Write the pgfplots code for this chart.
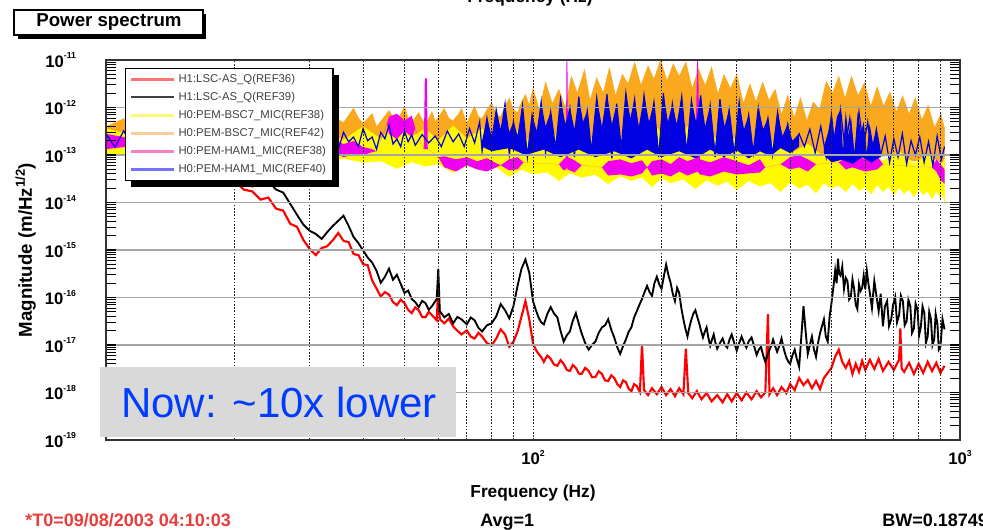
\documentclass[border=0pt]{standalone}
\usepackage{fontspec}
\setmainfont{Liberation Sans}
\usepackage{pgfplots}
\pgfplotsset{compat=1.18}
\usetikzlibrary{shadows}
\makeatletter
\tikzset{no preactions/.code={\let\tikz@preactions\pgfutil@empty}}
\makeatother
\definecolor{mred}{RGB}{255,0,0}
\definecolor{myellow}{RGB}{255,250,0}
\definecolor{morange}{RGB}{250,168,30}
\definecolor{mmag}{RGB}{240,0,240}
\definecolor{mblue}{RGB}{0,0,225}
\definecolor{boxgray}{RGB}{217,217,217}
\definecolor{nowblue}{RGB}{0,60,255}
\definecolor{tred}{RGB}{235,60,60}
\newcommand{\tl}[1]{\textbf{10}\raisebox{0.95ex}{\fontsize{6.5}{7}\selectfont\textbf{#1}}}
\begin{document}
\begin{tikzpicture}
\useasboundingbox (0,0) rectangle (737.25pt,-397.5pt);
\begin{axis}[
  at={(79.5pt,-330pt)}, anchor=south west,
  scale only axis, width=640.5pt, height=285pt,
  xmode=log, ymode=log,
  xmin=10, xmax=1000, ymin=1e-19, ymax=1e-11,
  xtick={10,100,1000},
  xticklabels={,\tl{2},\tl{3}},
  minor xtick={20,30,40,50,60,70,80,90,200,300,400,500,600,700,800,900},
  ytick={1e-19,1e-18,1e-17,1e-16,1e-15,1e-14,1e-13,1e-12,1e-11},
  yticklabels={\tl{-19},\tl{-18},\tl{-17},\tl{-16},\tl{-15},\tl{-14},\tl{-13},\tl{-12},\tl{-11}},
  minor ytick={2e-19,3e-19,4e-19,5e-19,6e-19,7e-19,8e-19,9e-19,
   2e-18,3e-18,4e-18,5e-18,6e-18,7e-18,8e-18,9e-18,
   2e-17,3e-17,4e-17,5e-17,6e-17,7e-17,8e-17,9e-17,
   2e-16,3e-16,4e-16,5e-16,6e-16,7e-16,8e-16,9e-16,
   2e-15,3e-15,4e-15,5e-15,6e-15,7e-15,8e-15,9e-15,
   2e-14,3e-14,4e-14,5e-14,6e-14,7e-14,8e-14,9e-14,
   2e-13,3e-13,4e-13,5e-13,6e-13,7e-13,8e-13,9e-13,
   2e-12,3e-12,4e-12,5e-12,6e-12,7e-12,8e-12,9e-12},
  xmajorgrids, xminorgrids, ymajorgrids,
  x grid style={black!85, dash pattern=on 1.2pt off 1.2pt, line width=0.6pt},
  y grid style={black!35, line width=1.2pt},
  axis on top,
  tick align=inside,
  xtick style={draw=none},
  ytick style={black, line width=0.8pt},
  major tick length=7.5pt, minor tick length=7.5pt,
  axis line style={black!80, line width=0.9pt},
  ticklabel style={font=\fontsize{12.5}{14}\selectfont},
  yticklabel style={xshift=-19pt},
  xticklabel style={yshift=-4pt},
  xlabel={\textbf{Frequency (Hz)}},
  xlabel style={font=\fontsize{13}{15}\selectfont, yshift=-8pt},
  ylabel={\textbf{Magnitude (m/Hz\textsuperscript{1/2})}},
  ylabel style={font=\fontsize{14}{16}\selectfont},
  legend style={at={(0.0222,0.979)}, anchor=north west, draw=black, fill=white,
    line width=0.8pt,
    font=\fontsize{8.5}{9}\selectfont, row sep=1.3pt,
    nodes={inner sep=2.3pt, text=black!75},
    drop shadow={shadow xshift=4.5pt, shadow yshift=-4.5pt, fill=black, opacity=1},
    cells={anchor=west}},
  legend image code/.code={\draw[no preactions, #1] (0pt,0pt) -- (32pt,0pt);},
]
\addlegendimage{red!55, line width=2pt}\addlegendentry{H1:LSC-AS\_Q(REF36)}
\addlegendimage{black!75, line width=1.5pt}\addlegendentry{H1:LSC-AS\_Q(REF39)}
\addlegendimage{yellow!55, line width=2.5pt}\addlegendentry{H0:PEM-BSC7\_MIC(REF38)}
\addlegendimage{orange!40, line width=2.5pt}\addlegendentry{H0:PEM-BSC7\_MIC(REF42)}
\addlegendimage{magenta!50, line width=2pt}\addlegendentry{H0:PEM-HAM1\_MIC(REF38)}
\addlegendimage{blue!55, line width=2pt}\addlegendentry{H0:PEM-HAM1\_MIC(REF40)}

% H0:PEM-BSC7_MIC(REF42) orange band
\addplot[fill=morange, draw=morange, line width=0.4pt, forget plot] coordinates {
(10,3.94e-13) (11,5.8e-13) (12,3.57e-13) (13,6.4e-13) (14,4.13e-13) (15,6.1e-13) (16,3.75e-13) (17,6.75e-13) (18,4.34e-13) (19,7.1e-13) (20,4.13e-13) (22,7.45e-13) (24,4.56e-13) (26,7.8e-13) (28,4.79e-13) (30,7.1e-13) (32,4.34e-13) (34,8.2e-13) (35,5.5e-13) (36,4.79e-13) (38,9.6e-13) (39,6.0e-13) (40,4.56e-13) (42,7.45e-13) (43,3.9e-13) (44,5.1e-13) (46,8.6e-13) (47,6.4e-13) (48,5.0e-13) (50,1.05e-12) (51,6.0e-13) (52,4.79e-13) (54,7.8e-13) (55,5.6e-13) (56,4.34e-13) (58,8.2e-13) (59,5.0e-13) (60,6.2e-13) (62,9.5e-13) (63.5,5.9e-13) (65,5.28e-13) (67,7.3e-13) (68,9.6e-13) (70,4.56e-13) (71.5,7.2e-13) (73,1.05e-12) (74.5,6.5e-13) (76,5.8e-13) (78,9.0e-13) (80,1.27e-12) (82,7.0e-13) (84,6.4e-13) (86,1.1e-12) (88,1.55e-12) (90,9.0e-13) (92,7.8e-13) (94,1.3e-12) (96,1.88e-12) (98,1.1e-12)
(100,2.5e-12) (103.5,8.8e-13) (107,3.4e-12) (111,1.2e-12) (115,2.4e-12) (119,1.0e-12) (123,4.5e-12) (127,2.0e-12) (132,6.2e-12) (136,1.4e-12) (141,4.2e-12) (146,2.0e-12) (151,6.8e-12) (156,1.75e-12) (162,5.0e-12) (167,3.1e-12) (173,8.9e-12) (179,2.9e-12) (186,7.5e-12) (192,3.9e-12) (199,1.0e-11) (206,3.6e-12) (213,8.3e-12) (220,4.5e-12) (228,9.0e-12) (236,2.5e-12) (244,6.5e-12) (253,2.9e-12) (262,7.0e-12) (271,1.9e-12) (280,4.9e-12) (290,2.5e-12) (300,5.0e-12) (311,1.2e-12) (322,3.1e-12) (333,1.3e-12) (345,3.4e-12) (357,1.4e-12) (369,2.4e-12) (382,7.0e-13) (395,1.8e-12) (409,6.0e-13) (423,1.6e-12) (438,5.2e-13) (453,1.3e-12) (469,9.0e-13) (486,3.5e-12) (503,2.0e-12) (520,4.5e-12) (538,1.55e-12) (557,4.5e-12) (577,1.75e-12) (597,3.3e-12) (618,1.05e-12) (640,2.7e-12) (662,1.05e-12) (685,2.1e-12) (709,8.0e-13) (734,1.75e-12) (760,7.2e-13) (786,1.6e-12) (814,5.4e-13) (842,1.1e-12) (872,3.7e-13) (902,7.3e-13) (920,3.6e-13)
(920,6.4e-14) (860,8.98e-14) (780,7.4e-14) (700,1.04e-13) (600,8.1e-14) (500,1.33e-13) (440,7.4e-14) (400,1.04e-13) (300,1.7e-13) (200,2.17e-13) (150,1.7e-13) (100,1.47e-13) (60,1.33e-13) (30,1.33e-13) (10,1.33e-13)
};
% H0:PEM-BSC7_MIC(REF38) yellow band
\addplot[fill=myellow, draw=myellow, line width=0.4pt, forget plot] coordinates {
(10,3.57e-13) (12,2.39e-13) (14,3.94e-13) (16,2.17e-13) (18,3.57e-13) (20,1.96e-13) (24,3.38e-13) (28,1.87e-13) (32,3.22e-13) (36,2.06e-13) (40,3.94e-13) (44,2.17e-13) (48,4.34e-13) (52,2.39e-13) (56,3.57e-13) (60,1.96e-13) (65,4.13e-13) (70,2.17e-13) (76,3.57e-13) (84,1.87e-13) (92,3.22e-13) (100,1.70e-13) (110,3.06e-13) (120,1.62e-13) (130,3.22e-13) (140,1.78e-13) (150,3.94e-13) (160,2.17e-13) (170,4.56e-13) (180,2.39e-13) (190,5.28e-13) (200,2.78e-13) (210,4.56e-13) (220,2.17e-13) (230,3.94e-13) (240,1.96e-13) (260,2.92e-13) (280,1.47e-13) (300,2.39e-13) (330,1.2e-13) (360,1.96e-13) (400,1.04e-13) (440,1.70e-13) (480,8.98e-14) (520,1.47e-13) (560,8.1e-14) (600,1.33e-13) (660,7.4e-14) (720,1.2e-13) (780,6.4e-14) (840,1.04e-13) (900,5.5e-14) (920,8.1e-14)
(920,1.04e-14) (910,1.6e-14) (900,1.25e-14) (880,1.8e-14) (860,1.2e-14) (840,1.75e-14) (820,1.45e-14) (800,2.0e-14) (780,1.32e-14) (760,1.9e-14) (740,1.55e-14) (720,2.1e-14) (700,1.46e-14) (680,2.2e-14) (660,1.7e-14) (640,2.4e-14) (620,1.53e-14) (600,2.1e-14) (580,1.8e-14) (560,2.5e-14) (540,1.69e-14) (520,2.3e-14) (500,2.0e-14) (480,2.6e-14) (460,1.6e-14) (440,2.4e-14) (420,2.0e-14) (400,2.7e-14) (380,1.69e-14) (360,2.6e-14) (340,2.2e-14) (320,2.9e-14) (300,1.87e-14) (285,2.8e-14) (270,2.3e-14) (255,3.0e-14) (240,1.96e-14) (225,3.1e-14) (210,2.6e-14) (200,3.3e-14) (190,2.16e-14) (180,3.4e-14) (170,2.9e-14) (160,3.6e-14) (150,2.5e-14) (140,3.9e-14) (130,3.4e-14) (122,4.2e-14) (115,2.9e-14) (108,4.4e-14) (100,4.0e-14) (94,5.0e-14) (88,3.53e-14) (82,5.6e-14) (76,4.8e-14) (70,6.0e-14) (65,4.3e-14) (60,6.5e-14) (56,5.8e-14) (52,7.2e-14) (48,5.23e-14) (44,7.5e-14) (40,7.0e-14) (36,8.5e-14) (32,6.7e-14) (25,9.9e-14) (20,8.1e-14) (15,1.15e-13) (10,9.9e-14)
};
% H0:PEM-HAM1_MIC(REF38) magenta patches
\addplot[fill=mmag, draw=none, forget plot] coordinates {
(10,2.78e-13) (11,2.39e-13) (12,1.70e-13) (33,1.47e-13) (34,2.17e-13) (36,1.70e-13) (38,1.96e-13) (40,1.47e-13) (42,1.33e-13) (43,1.2e-13) (45.5,4.56e-13) (46,6.4e-13) (48,7.4e-13) (50,5.28e-13) (52,6.72e-13) (53,3.57e-13) (55.5,1.33e-13) (55.8,4.13e-12) (56.4,4.13e-12) (56.7,1.33e-13) (60,8.98e-14) (62,9.4e-14) (66,8.1e-14) (70,8.98e-14) (74,7.4e-14) (78,8.55e-14) (82,6.7e-14) (84,6.1e-14) (88,8.1e-14) (92,8.98e-14) (95,7.0e-14) (115,6.4e-14) (118,8.1e-14) (119.4,8.98e-14) (119.8,9.5e-12) (120.4,9.5e-12) (120.8,8.98e-14) (125,7.75e-14) (130,6.1e-14) (145,5.5e-14) (150,7.4e-14) (160,8.1e-14) (170,6.7e-14) (180,7.75e-14) (185,5.5e-14) (190,7.4e-14) (200,8.1e-14) (210,6.4e-14) (220,8.98e-14) (230,7.4e-14) (240,8.55e-14) (242.3,9.5e-12) (243.5,9.5e-12) (246,8.1e-14) (260,7.0e-14) (280,8.98e-14) (300,7.4e-14) (320,6.1e-14) (340,8.1e-14) (350,5.5e-14) (380,6.4e-14) (400,8.98e-14) (420,9.9e-14) (440,8.1e-14) (460,6.4e-14) (520,7.0e-14) (540,8.98e-14) (560,1.04e-13) (600,8.1e-14) (640,9.4e-14) (660,6.4e-14) (860,5.5e-14) (880,8.1e-14) (900,6.4e-14) (920,4.98e-14)
(920,2.5e-14) (900,3.04e-14) (880,4.5e-14) (860,5.5e-14) (660,6.4e-14) (640,4.98e-14) (600,4.5e-14) (560,5.5e-14) (540,4.98e-14) (520,7.0e-14) (460,6.4e-14) (440,4.5e-14) (420,5.5e-14) (400,4.98e-14) (380,6.4e-14) (350,5.5e-14) (340,4.3e-14) (320,4.1e-14) (300,3.9e-14) (280,4.5e-14) (260,3.53e-14) (246,3.9e-14) (243,4.5e-14) (240,4.3e-14) (230,3.7e-14) (220,4.5e-14) (210,3.53e-14) (200,4.1e-14) (190,3.7e-14) (185,5.5e-14) (180,4.1e-14) (170,3.53e-14) (160,3.9e-14) (150,3.7e-14) (145,5.5e-14) (130,6.1e-14) (125,4.3e-14) (120.5,4.98e-14) (120,5.5e-14) (119.5,4.98e-14) (118,4.74e-14) (115,6.4e-14) (95,7.0e-14) (92,4.98e-14) (88,4.74e-14) (84,6.1e-14) (82,5.5e-14) (78,4.5e-14) (74,4.98e-14) (70,6.1e-14) (66,4.5e-14) (62,5.5e-14) (60,8.98e-14) (56.7,1.33e-13) (56,1.33e-13) (55.5,1.33e-13) (53,3.57e-13) (52,2.39e-13) (50,3.22e-13) (48,2.17e-13) (46,2.78e-13) (45.5,4.56e-13) (43,1.2e-13) (42,1.15e-13) (40,9.9e-14) (38,1.04e-13) (36,8.98e-14) (34,1.2e-13) (33,1.47e-13) (12,1.70e-13) (11,1.47e-13) (10,1.33e-13)
};
% H0:PEM-HAM1_MIC(REF40) blue: dense part 76-420 Hz
\addplot[fill=mblue, draw=none, forget plot] coordinates {
(76,2.0e-13) (78,6.0e-13) (80,2.5e-13) (82,9.0e-13) (84,3.5e-13) (86,1.2e-12) (88,3.0e-13) (90,5.0e-13) (92,2.6e-13) (94.5,1.1e-12) (97,1.2e-13) (99.5,7e-13) (102,3.2e-13) (104.5,1.3e-12) (107,4.0e-13) (110,8e-13) (113,1.2e-13) (116,1.5e-12) (119,4.5e-13) (122,1.0e-12) (125,3.5e-13) (128,1.7e-12) (131,5.0e-13) (134,8.5e-13) (137,1.1e-13) (141,1.6e-12) (145,4.0e-13) (149,1.9e-12) (153,4.5e-13) (157,1.2e-12) (161,1.2e-13) (165,2.0e-12) (169,6.0e-13) (173,1.5e-12) (177,4.0e-13) (182,1.8e-12) (187,5.0e-13) (192,1.3e-12) (197,1.1e-13) (202,2.0e-12) (207,5.0e-13) (212,1.2e-12) (217,4.5e-13) (223,1.7e-12) (229,1.2e-13) (235,1.4e-12) (241,5.0e-13) (247,1.8e-12) (253,4.0e-13) (260,1.1e-12) (267,1.3e-13) (274,1.5e-12) (281,4.0e-13) (288,9e-13) (296,1.2e-13) (304,1.3e-12) (312,3.5e-13) (320,7e-13) (328,1.1e-13) (337,1.0e-12) (346,3.5e-13) (355,6e-13) (364,1.2e-13) (374,8e-13) (384,2.5e-13) (395,4.5e-13) (405,2.0e-13) (420,2.8e-13)
(420,1.5e-13) (400,1.1e-13) (380,1.4e-13) (360,9.5e-14) (340,1.2e-13) (320,8.5e-14) (300,1.25e-13) (280,9e-14) (260,1.3e-13) (240,8.5e-14) (220,1.2e-13) (200,9e-14) (185,1.3e-13) (170,8.5e-14) (155,1.2e-13) (140,9e-14) (128,1.3e-13) (116,9e-14) (106,1.3e-13) (96,1.0e-13) (88,1.4e-13) (80,1.2e-13) (76,1.5e-13)
};
% H0:PEM-HAM1_MIC(REF40) blue: dense part 480-650 Hz
\addplot[fill=mblue, draw=none, forget plot] coordinates {
(480,1.5e-13) (491,3.0e-13) (500,7e-13) (507,2.5e-13) (515,6.4e-13) (525,9e-13) (532,1.2e-13) (540,8.2e-13) (548,2.5e-13) (556,6e-13) (566,1.1e-13) (576,8e-13) (586,3.0e-13) (595,5e-13) (605,1.1e-13) (614,4.56e-13) (625,1.8e-13) (637,3.5e-13) (650,1.5e-13)
(650,9e-14) (620,7e-14) (590,9e-14) (560,6.5e-14) (530,8e-14) (500,7e-14) (480,1.0e-13)
};
% H0:PEM-HAM1_MIC(REF40) blue: streaks over the whole range
\addplot[mblue, line width=0.9pt, forget plot] coordinates {
(10,2.78e-13) (10.5,1.47e-13) (11,3.22e-13) (11.5,1.62e-13) (12,2.64e-13) (14,1.70e-13) (18,2.78e-13) (25,1.70e-13) (33,2.39e-13)
(34,2.17e-13) (35,1.33e-13) (36,3.0e-13) (37,1.9e-13) (38,2.39e-13) (39,1.5e-13) (40,3.6e-13) (41,2.0e-13) (42,2.39e-13) (43,1.33e-13) (44,3.0e-13) (45,2.2e-13) (46,4.2e-13) (47,1.70e-13) (48,2.17e-13) (49,1.5e-13) (50,3.2e-13) (51,1.9e-13) (52,2.64e-13) (53,1.6e-13) (55,2.7e-13) (57,1.8e-13) (59,2.51e-13) (61,1.5e-13) (63,3.2e-13) (65,1.9e-13) (67,2.78e-13) (69,1.5e-13) (71,3.6e-13) (73,1.8e-13) (75,5.0e-13)
(76,1.2e-13) (78,6.0e-13) (80,1.5e-13) (82,9.0e-13) (84,2.5e-13) (86,1.2e-12) (88,1.0e-13) (90,5.0e-13) (92,1.6e-13) (94.5,1.1e-12) (97,9e-14) (99.5,7e-13) (102,2.0e-13) (104.5,1.3e-12) (107,1.1e-13) (110,8e-13) (113,1.4e-13) (116,1.5e-12) (119,3.0e-13) (122,1.0e-12) (125,9e-14) (128,1.7e-12) (131,1.5e-13) (134,8.5e-13) (137,1.2e-13) (141,1.6e-12) (145,2.2e-13) (149,1.9e-12) (153,8.5e-14) (157,1.2e-12) (161,1.4e-13) (165,2.0e-12) (169,4.0e-13) (173,1.5e-12) (177,1.0e-13) (182,1.8e-12) (187,2.5e-13) (192,1.3e-12) (197,9e-14) (202,2.0e-12) (207,1.5e-13) (212,1.2e-12) (217,3.0e-13) (223,1.7e-12) (229,1.1e-13) (235,1.4e-12) (241,2.6e-13) (247,1.8e-12) (253,1.3e-13) (260,1.1e-12) (267,9e-14) (274,1.5e-12) (281,2.0e-13) (288,9e-13) (296,1.0e-13) (304,1.3e-12) (312,1.6e-13) (320,7e-13) (328,1.1e-13) (337,1.0e-12) (346,2.2e-13) (355,6e-13) (364,1.0e-13) (374,8e-13) (384,1.5e-13) (395,4.5e-13) (405,1.2e-13) (420,2.8e-13) (432,1.5e-13) (445,3.5e-13) (458,1.1e-13) (472,4.0e-13) (486,9e-14) (500,7e-13) (512,8e-14) (525,9e-13) (538,1.3e-13) (552,6e-13) (566,7e-14) (580,8e-13) (594,1.5e-13) (608,5e-13) (622,8e-14) (637,3.5e-13) (652,1.0e-13) (668,2.5e-13) (684,7e-14) (700,2.2e-13) (716,9e-14) (733,2.8e-13) (750,6.5e-14) (768,2.0e-13) (786,1.0e-13) (805,2.4e-13) (824,7e-14) (844,1.9e-13) (864,6e-14) (884,2.5e-13) (904,8e-14) (920,1.5e-13)
};
% H1:LSC-AS_Q(REF36) red
\addplot[mred, line width=1.6pt, forget plot] coordinates {
(12,1.21e-12) (13,5.83e-13) (14,3.94e-13) (15,1.79e-13) (16,1.40e-13) (17,7.45e-14) (18,6.12e-14) (19,3.23e-14) (20,2.93e-14) (21,1.88e-14) (22,1.71e-14) (23,1.15e-14) (24,1.27e-14) (25,7.45e-15) (26,6.75e-15) (27,3.57e-15) (28,3.08e-15) (29,1.62e-15) (30,1.05e-15) (31,7.82e-16) (32,1.10e-15) (33,1.21e-15) (34,1.62e-15) (35,2.29e-15) (36,1.55e-15) (37,1.47e-15) (38,8.22e-16) (39,7.82e-16) (40,5.03e-16) (41,4.79e-16) (42,2.29e-16) (43,1.55e-16) (44,1.05e-16) (45,1.3e-16) (46,1.15e-16) (47,8.0e-17) (48,6.9e-17) (49,9.0e-17) (50,7.6e-17) (51,5.5e-17) (52,4.7e-17) (53,6.2e-17) (54,5.4e-17) (55,3.9e-17) (56,3.84e-17) (57,5.0e-17) (58,4.24e-17) (59.5,3.31e-17) (60,1.58e-16) (60.5,3.48e-17) (62,2.86e-17) (63.5,3.6e-17) (65,2.47e-17) (66.5,2.0e-17) (68,1.67e-17) (70,2.03e-17) (71.5,1.5e-17) (73,1.37e-17) (74.5,1.8e-17) (76,1.51e-17) (78,1.1e-17) (80,9.7e-18) (82,1.37e-17) (84,2.13e-17) (86,1.67e-17) (88,9.2e-18) (90,1.18e-17) (92,1.93e-17) (94,4.0e-17) (96,8.4e-17) (98,3.48e-17) (100,1.07e-17) (101.5,8.0e-18) (103,6.5e-18) (104.5,5.6e-18) (106,4.42e-18) (108,6.0e-18) (110,5.1e-18) (112,3.9e-18) (114,3.64e-18) (116,4.8e-18) (118,4.01e-18) (120,3.0e-18) (122,2.84e-18) (124,3.8e-18) (126,3.30e-18) (128,2.5e-18) (130,2.46e-18) (132.5,3.3e-18) (135,2.84e-18) (137.5,2.1e-18) (140,2.12e-18) (142.5,2.8e-18) (145,2.46e-18) (147.5,1.8e-18) (150,1.74e-18) (152.5,2.3e-18) (155,2.02e-18) (157.5,1.5e-18) (160,1.30e-18) (162.5,1.8e-18) (165,1.66e-18) (167.5,1.2e-18) (170,1.07e-18) (172.5,1.5e-18) (175,1.36e-18) (178,1.02e-18) (180,1.02e-17) (182,1.12e-18) (186,8.8e-19) (190,1.23e-18) (195,9.2e-19) (200,1.30e-18) (205,8.8e-19) (210,1.18e-18) (215,8.35e-19) (220,1.23e-18) (225,9.2e-19) (228,8.4e-18) (231,9.7e-19) (236,7.6e-19) (242,1.07e-18) (248,7.2e-19) (255,9.7e-19) (262,6.5e-19) (270,8.8e-19) (278,6.2e-19) (285,9.2e-19) (292,6.5e-19) (300,9.7e-19) (308,6.85e-19) (316,1.0e-18) (325,7.2e-19) (334,1.07e-18) (342,7.9e-19) (350,1.0e-18) (355,4.45e-17) (358,9.2e-19) (365,1.23e-18) (373,8.8e-19) (382,1.30e-18) (392,9.7e-19) (400,1.51e-18) (410,1.12e-18) (420,2.02e-18) (430,1.43e-18) (440,1.83e-18) (450,1.23e-18) (460,1.74e-18) (470,1.18e-18) (480,2.02e-18) (490,2.58e-18) (500,3.30e-18) (510,5.65e-18) (520,7.98e-18) (530,4.42e-18) (540,3.30e-18) (550,4.65e-18) (560,2.46e-18) (570,4.01e-18) (580,2.71e-18) (590,4.65e-18) (600,2.99e-18) (615,4.89e-18) (630,3.14e-18) (645,5.1e-18) (660,2.84e-18) (680,4.42e-18) (700,2.99e-18) (720,4.89e-18) (725,2.24e-17) (730,3.2e-18) (740,2.71e-18) (760,4.2e-18) (780,2.46e-18) (800,4.01e-18) (820,2.58e-18) (840,4.42e-18) (860,2.84e-18) (880,4.2e-18) (900,2.58e-18) (920,3.64e-18)
};
% H1:LSC-AS_Q(REF39) black
\addplot[black, line width=1.4pt, forget plot] coordinates {
(12,1.71e-12) (13,9.07e-13) (14,4.79e-13) (15,2.93e-13) (16,1.79e-13) (17,1.21e-13) (18,7.82e-14) (19,5.03e-14) (20,3.57e-14) (21,2.53e-14) (22,2.18e-14) (23,2.41e-14) (24,2.79e-14) (25,1.88e-14) (26,1.62e-14) (27,9.4e-15) (28,5.55e-15) (29,3.40e-15) (30,2.53e-15) (31,2.18e-15) (32,1.71e-15) (33,2.41e-15) (34,3.23e-15) (35,4.13e-15) (36,5.28e-15) (37,3.23e-15) (38,1.88e-15) (39,1.40e-15) (40,9.8e-16) (41,6.95e-16) (42,5.44e-16) (43,3.67e-16) (44,2.04e-16) (45,2.73e-16) (46,4.05e-16) (47,2.36e-16) (48,3.01e-16) (49,1.94e-16) (50,1.25e-16) (51,1.4e-16) (52,9.3e-17) (53,8.0e-17) (54,6.27e-17) (55,8.5e-17) (56,7.6e-17) (57,5.5e-17) (58,6.6e-17) (59.5,9.3e-17) (60,4.05e-16) (60.5,5.16e-17) (62,3.84e-17) (63.5,4.5e-17) (65,2.86e-17) (66.5,3.9e-17) (68,3.48e-17) (70,2.72e-17) (71.5,3.8e-17) (73,3.31e-17) (74.5,2.3e-17) (76,1.93e-17) (78,2.6e-17) (80,2.86e-17) (82,4.0e-17) (84,7.27e-17) (86,5.4e-17) (88,3.65e-17) (90,6.6e-17) (92,1.76e-16) (94,4.05e-16) (96,6.3e-16) (98,3.33e-16) (100,8.4e-17) (101.5,5.5e-17) (103,3.84e-17) (104.5,3.0e-17) (106,2.72e-17) (108,4.5e-17) (110,6.27e-17) (112,4.6e-17) (114,3.84e-17) (116,2.0e-17) (118,1.18e-17) (120,1.6e-17) (122,1.93e-17) (124,3.3e-17) (126,4.7e-17) (128,2.8e-17) (130,1.75e-17) (132.5,1.1e-17) (135,7.98e-18) (137.5,1.0e-17) (140,1.18e-17) (142.5,1.8e-17) (145,2.35e-17) (147.5,2.6e-17) (150,3.48e-17) (152.5,2.1e-17) (155,1.44e-17) (157.5,9.0e-18) (160,6.5e-18) (162.5,9.5e-18) (165,1.30e-17) (167.5,1.9e-17) (170,2.35e-17) (172.5,3.8e-17) (175,5.16e-17) (177.5,7.0e-17) (180,9.3e-17) (182.5,1.3e-16) (185,1.76e-16) (187.5,1.3e-16) (190,1.08e-16) (192.5,2.0e-16) (195,2.73e-16) (197.5,1.9e-16) (200,1.52e-16) (202.5,2.8e-16) (205,4.93e-16) (207.5,3.0e-16) (210,2.04e-16) (212.5,1.2e-16) (215,8.4e-17) (217.5,1.6e-16) (220,1.25e-16) (222.5,6.0e-17) (225,3.48e-17) (227.5,2.2e-17) (230,1.51e-17) (232.5,2.4e-17) (235,3.48e-17) (237.5,4.6e-17) (240,5.4e-17) (242.5,3.9e-17) (245,2.86e-17) (247.5,2.0e-17) (250,1.44e-17) (252.5,1.9e-17) (255,2.35e-17) (257.5,1.4e-17) (260,9.7e-18) (262.5,1.3e-17) (265,1.67e-17) (267.5,1.1e-17) (270,8.4e-18) (274,1.1e-17) (278,1.37e-17) (281.5,1.0e-17) (285,8.8e-18) (288.5,1.3e-17) (292,1.67e-17) (296,1.1e-17) (300,7.6e-18) (304,1.1e-17) (308,1.51e-17) (312,1.1e-17) (316,8.8e-18) (320,1.2e-17) (325,1.44e-17) (330,9.0e-18) (334,6.2e-18) (338,8.0e-18) (342,9.2e-18) (346,6.0e-18) (350,4.42e-18) (354,6.0e-18) (358,7.98e-18) (362,1.0e-17) (365,1.30e-17) (369,9.5e-18) (373,7.2e-18) (378,1.0e-17) (382,1.37e-17) (387,8.0e-18) (392,5.4e-18) (396,4.5e-18) (400,4.01e-18) (405,6.0e-18) (410,7.98e-18) (415,5.0e-18) (420,3.48e-18) (425,1.5e-17) (430,6.6e-17) (435,1.93e-17) (440,6.5e-18) (445,1.0e-17) (450,1.51e-17) (455,8.0e-18) (460,5.65e-18) (465,1.1e-17) (470,1.75e-17) (475,2.5e-17) (480,3.48e-17) (485,1.5e-17) (490,1.18e-17) (495,4.0e-17) (500,7.6e-17) (505,1.6e-16) (510,3.67e-16) (514,2.0e-16) (518,6.6e-16) (521,3.2e-16) (525,2.88e-16) (530,4.5e-16) (535,1.52e-16) (540,2.6e-16) (545,2.23e-16) (550,9e-17) (555,1.02e-16) (560,2.4e-16) (565,1.52e-16) (570,7e-17) (575,5.7e-17) (580,1.9e-16) (585,1.38e-16) (590,1.6e-16) (595,2.88e-16) (600,1.5e-16) (605,3.67e-16) (610,2.0e-16) (615,1.25e-16) (622,6e-17) (630,2.23e-16) (637,1.1e-16) (645,5.16e-17) (652,1.2e-16) (660,2.47e-17) (667,6.5e-17) (675,8.4e-17) (682,2.5e-17) (690,3.48e-17) (697,7e-17) (705,1.02e-16) (712,3.0e-17) (720,4.24e-17) (727,1.1e-16) (735,8.4e-17) (742,2.6e-17) (750,3.16e-17) (757,9e-17) (765,6.6e-17) (772,1.8e-17) (780,2.24e-17) (787,7.5e-17) (795,5.7e-17) (802,1.6e-17) (810,2.47e-17) (817,6.5e-17) (825,4.7e-17) (832,1.1e-17) (840,1.51e-17) (847,5e-17) (855,3.48e-17) (862,1.0e-17) (870,1.30e-17) (877,4.5e-17) (885,2.86e-17) (892,8e-18) (900,9.2e-18) (910,3.5e-17) (920,2.13e-17)
};
\end{axis}
\begin{scope}[x=0.75pt, y=-0.75pt]
  % Power spectrum box
  \fill[black] (18,14) rectangle (206,39);
  \draw[black, fill=white, line width=0.9pt] (14,10) rectangle (203,35);
  \node[font=\bfseries\fontsize{14}{16}\selectfont] at (109,22.5) {Power spectrum};
  % cut-off title at the top
  \node[font=\bfseries\fontsize{13}{15}\selectfont] at (530,-2) {Frequency (Hz)};
  % grey annotation box
  \fill[boxgray] (100,367) rectangle (456,437);
  \node[anchor=base west, text=nowblue, font=\fontsize{31.5}{36}\selectfont, inner sep=0pt] at (121,418) {Now: \textasciitilde10x lower};
  % footer
  \node[anchor=base west, text=tred, font=\bfseries\fontsize{13.5}{15}\selectfont, inner sep=0pt] at (25,527) {*T0=09/08/2003 04:10:03};
  \node[anchor=base west, font=\bfseries\fontsize{13.5}{15}\selectfont, inner sep=0pt] at (480,527) {Avg=1};
  \node[anchor=base west, font=\bfseries\fontsize{13.5}{15}\selectfont, inner sep=0pt] at (882,527) {BW=0.187490};
\end{scope}
\end{tikzpicture}
\end{document}
